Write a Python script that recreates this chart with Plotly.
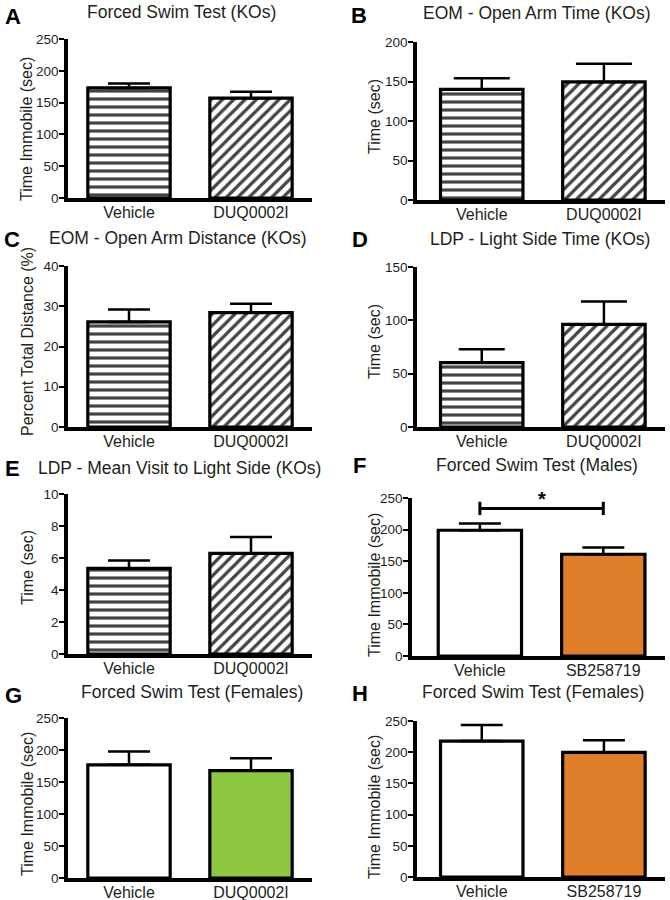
import plotly.graph_objects as go

# ---------------- data ----------------
cats_duq = ["Vehicle", "DUQ0002I"]
cats_sb = ["Vehicle", "SB258719"]

a_mean = [173, 157]
a_sem = [7, 10]
b_mean = [140, 149.5]
b_sem = [14, 23]
c_mean = [26.1, 28.4]
c_sem = [3.1, 2.2]
d_mean = [60.3, 96.3]
d_sem = [12.5, 21.4]
e_mean = [5.35, 6.29]
e_sem = [0.5, 1.02]
f_mean = [199, 161]
f_sem = [10.5, 10.6]
g_mean = [176.8, 167.9]
g_sem = [20.9, 19.1]
h_mean = [217.9, 199.7]
h_sem = [25.7, 19.3]

f_sig_y = 233.5      # significance bracket level (panel F)
f_sig_half = 10.5    # half height of bracket end ticks
f_sig_label = "*"

titles = [
    "Forced Swim Test (KOs)",
    "EOM - Open Arm Time (KOs)",
    "EOM - Open Arm Distance (KOs)",
    "LDP - Light Side Time (KOs)",
    "LDP - Mean Visit to Light Side (KOs)",
    "Forced Swim Test (Males)",
    "Forced Swim Test (Females)",
    "Forced Swim Test (Females)",
]
letters = ["A", "B", "C", "D", "E", "F", "G", "H"]
ytitles = [
    "Time Immobile (sec)",
    "Time (sec)",
    "Percent Total Distance (%)",
    "Time (sec)",
    "Time (sec)",
    "Time Immobile (sec)",
    "Time Immobile (sec)",
    "Time Immobile (sec)",
]
y_max = [250, 200, 40, 150, 10, 250, 250, 250]
y_dtick = [50, 50, 10, 50, 2, 50, 50, 50]

# ---------------- styling / layout ----------------
W, H = 670, 900
FONT = "Liberation Sans, Arial, Helvetica, sans-serif"
TXT = "#231F20"
ORANGE = "#E07F2A"
GREEN = "#8DC63F"

hatched = dict(colors=["white", "white"], shapes=["-", "/"])
orange_fill = dict(colors=["white", ORANGE], shapes=["", ""])
green_fill = dict(colors=["white", GREEN], shapes=["", ""])

panels = [
    # cats, mean, sem, fill, x-domain px, y-domain px, x-range left, err cap half-width
    (cats_duq, a_mean, a_sem, hatched, (68, 312), (39, 198), -0.5, 21),
    (cats_duq, b_mean, b_sem, hatched, (417, 665), (42, 200), -0.53, 28),
    (cats_duq, c_mean, c_sem, hatched, (68, 312), (266, 427), -0.5, 21),
    (cats_duq, d_mean, d_sem, hatched, (417, 665), (267, 427), -0.53, 23),
    (cats_duq, e_mean, e_sem, hatched, (68, 312), (494, 654), -0.5, 21),
    (cats_sb, f_mean, f_sem, orange_fill, (412, 665), (498, 656), -0.55, 21),
    (cats_duq, g_mean, g_sem, green_fill, (68, 312), (718, 878), -0.5, 21),
    (cats_sb, h_mean, h_sem, orange_fill, (417, 665), (721, 877), -0.53, 21),
]

title_pos = [(181, 12), (537, 13), (178, 238), (540, 239),
             (179, 468), (537, 465), (192, 692), (533, 692)]
letter_pos = [(13, 16), (359, 15), (12, 240), (360, 240),
              (12, 468), (359, 465), (13, 695), (360, 693)]
ytitle_pos = [(27, 129), (374, 117), (27, 342), (374, 342),
              (27, 568), (374, 585), (27, 804), (374, 807)]


def px_x(v):
    return v / W


def px_y(v):
    return 1 - v / H


fig = go.Figure()
layout = dict(
    width=W, height=H,
    margin=dict(l=0, r=0, t=0, b=0, pad=0, autoexpand=False),
    paper_bgcolor="white", plot_bgcolor="white",
    showlegend=False, barmode="overlay",
    font=dict(family=FONT, color=TXT, size=16),
)
annotations = []

for i, (cats, mean, sem, fill, xd, yd, xlo, capw) in enumerate(panels):
    n = i + 1
    xa = "x" if n == 1 else f"x{n}"
    ya = "y" if n == 1 else f"y{n}"
    fig.add_trace(go.Bar(
        x=cats, y=mean, xaxis=xa, yaxis=ya, width=0.675,
        marker=dict(
            color=fill["colors"],
            line=dict(color="black", width=3.2),
            pattern=dict(shape=fill["shapes"], fgcolor="black", fgopacity=1,
                         bgcolor=fill["colors"], size=8, solidity=0.4),
        ),
        error_y=dict(type="data", array=sem, arrayminus=[0] * len(sem),
                     symmetric=False, color="black", thickness=2.5, width=capw),
        hoverinfo="x+y",
    ))
    layout[f"xaxis{'' if n == 1 else n}"] = dict(
        domain=[px_x(xd[0]), px_x(xd[1])], anchor=ya,
        range=[xlo, 1.5], showline=True, linecolor="black", linewidth=3.5,
        ticks="", ticklabelstandoff=-3,
        tickfont=dict(size=16, family=FONT, color=TXT),
        showgrid=False, zeroline=False, fixedrange=True,
    )
    layout[f"yaxis{'' if n == 1 else n}"] = dict(
        domain=[px_y(yd[1]), px_y(yd[0])], anchor=xa,
        range=[0, y_max[i]], dtick=y_dtick[i], tick0=0,
        showline=True, linecolor="black", linewidth=3.5,
        ticks="outside", ticklen=5, tickwidth=2, tickcolor="black",
        ticklabelstandoff=-2,
        tickfont=dict(size=13.5, family=FONT, color=TXT),
        showgrid=False, zeroline=False, fixedrange=True,
    )
    tx, ty = title_pos[i]
    annotations.append(dict(
        text=titles[i], x=px_x(tx), y=px_y(ty), xref="paper", yref="paper",
        xanchor="center", yanchor="middle", showarrow=False,
        font=dict(size=17.5, family=FONT, color=TXT)))
    lx, ly = letter_pos[i]
    annotations.append(dict(
        text=f"<b>{letters[i]}</b>", x=px_x(lx), y=px_y(ly), xref="paper", yref="paper",
        xanchor="center", yanchor="middle", showarrow=False,
        font=dict(size=22, family=FONT, color="black")))
    yx, yy = ytitle_pos[i]
    annotations.append(dict(
        text=ytitles[i], x=px_x(yx), y=px_y(yy), xref="paper", yref="paper",
        xanchor="center", yanchor="middle", showarrow=False, textangle=-90,
        font=dict(size=16, family=FONT, color=TXT)))

# significance bracket on panel F
fig.add_trace(go.Scatter(
    x=[cats_sb[0], cats_sb[0], None, cats_sb[0], cats_sb[1], None, cats_sb[1], cats_sb[1]],
    y=[f_sig_y - f_sig_half, f_sig_y + f_sig_half, None, f_sig_y, f_sig_y, None,
       f_sig_y - f_sig_half, f_sig_y + f_sig_half],
    xaxis="x6", yaxis="y6", mode="lines",
    line=dict(color="black", width=3), hoverinfo="skip",
))
annotations.append(dict(
    text=f"<b>{f_sig_label}</b>", x=0.5, y=f_sig_y, xref="x6", yref="y6",
    xanchor="center", yanchor="bottom", showarrow=False, yshift=-4,
    font=dict(size=20, family=FONT, color="black")))

layout["annotations"] = annotations
fig.update_layout(**layout)
fig.write_html(
    "out.html",
    config={"displayModeBar": False},
    post_script="document.body.style.margin='0';document.body.style.padding='0';",
)
